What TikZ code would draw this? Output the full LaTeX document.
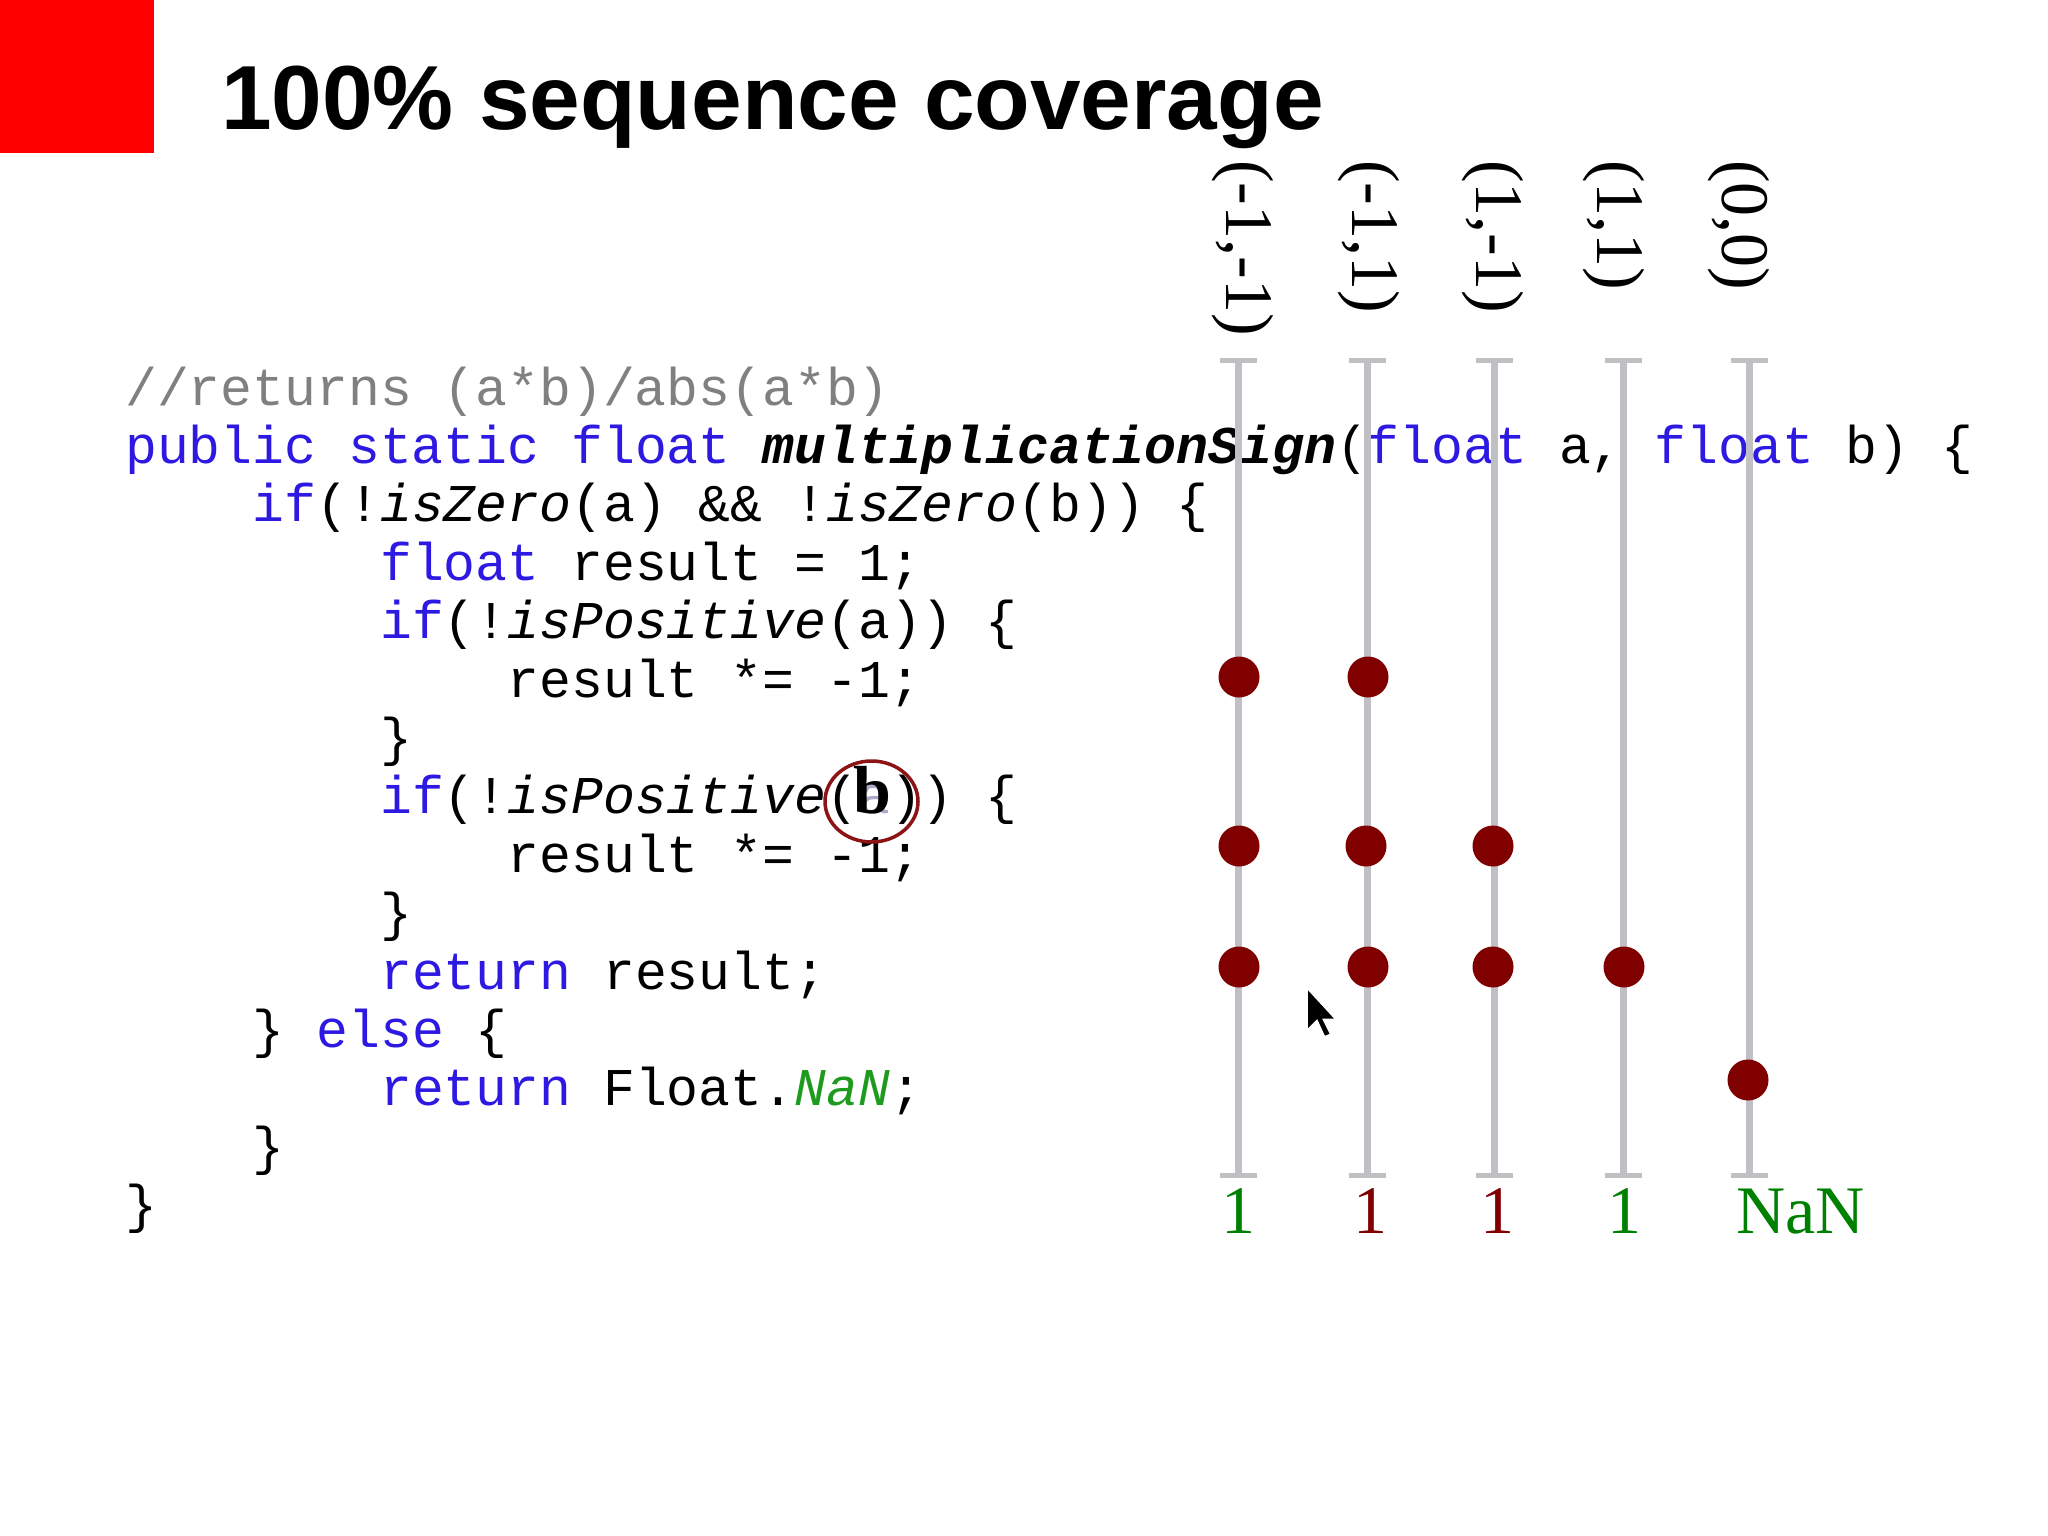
\documentclass[tikz,border=0pt]{standalone}
\usepackage{fontspec}
\usetikzlibrary{shapes.geometric}
\newfontfamily\codefont{Liberation Mono}
\newfontfamily\titlefont{Liberation Sans}
\newfontfamily\labelfont{Liberation Serif}
\definecolor{kwblue}{RGB}{45,25,225}
\definecolor{cmtgray}{RGB}{128,128,128}
\definecolor{nangreen}{RGB}{30,155,30}
\definecolor{dotred}{RGB}{128,0,0}
\definecolor{ringred}{RGB}{140,20,20}
\definecolor{resgreen}{RGB}{0,128,0}
\definecolor{resred}{RGB}{128,0,0}
\definecolor{railgray}{RGB}{192,192,196}
\definecolor{ghost}{RGB}{170,170,200}
\newcommand\kwd[1]{{\color{kwblue}#1}}
\newcommand\itl[1]{{\itshape #1}}
\begin{document}
\begin{tikzpicture}[x=1pt,y=-1pt,
  codeline/.style={anchor=base west, inner sep=0pt, font=\codefont\fontsize{53.1}{60}\selectfont},
  collabel/.style={anchor=base west, inner sep=0pt, rotate=-90, font=\labelfont\fontsize{68}{70}\selectfont},
  reslabel/.style={inner sep=0pt, font=\labelfont\fontsize{68}{70}\selectfont},
  rail/.style={draw=railgray, line width=7pt},
  railcap/.style={draw=railgray, line width=5pt},
  hit/.style={circle, fill=dotred, inner sep=0pt, minimum size=41pt}]
\useasboundingbox (0,0) rectangle (2048,1536);
\fill[white] (0,0) rectangle (2048,1536);
% red corner block
\fill[red] (0,0) rectangle (154,153);
% title
\node[anchor=base west, inner sep=0pt, font=\titlefont\bfseries\fontsize{91}{95}\selectfont] (title) at (221,130) {100\% sequence coverage};
% code
\node[codeline] (c0) at (125,405) {\color{cmtgray}//returns (a*b)/abs(a*b)};
\node[codeline] (c1) at (125,463.4) {\kwd{public} \kwd{static} \kwd{float} {\bfseries\itshape multiplicationSign}(\kwd{float} a, \kwd{float} b) \{};
\node[codeline] (c2) at (252.5,521.8) {\kwd{if}(!\itl{isZero}(a) \&\& !\itl{isZero}(b)) \{};
\node[codeline] (c3) at (380,580.2) {\kwd{float} result = 1;};
\node[codeline] (c4) at (380,638.6) {\kwd{if}(!\itl{isPositive}(a)) \{};
\node[codeline] (c5) at (507.4,697) {result *= -1;};
\node[codeline] (c6) at (380,755.4) {\}};
\node[codeline] (c7) at (380,813.8) {\kwd{if}(!\itl{isPositive}({\color{ghost}a})) \{};
\node[codeline] (c8) at (507.4,872.2) {result *= -1;};
\node[codeline] (c9) at (380,930.6) {\}};
\node[codeline] (c10) at (380,989) {\kwd{return} result;};
\node[codeline] (c11) at (252.5,1047.4) {\} \kwd{else} \{};
\node[codeline] (c12) at (380,1105.8) {\kwd{return} Float.{\color{nangreen}\itshape NaN};};
\node[codeline] (c13) at (252.5,1164.2) {\}};
\node[codeline] (c14) at (125,1222.6) {\}};
% correction b
\node[anchor=base, inner sep=0pt, font=\labelfont\bfseries\fontsize{68}{70}\selectfont] (bfix) at (872.5,813) {b};
\node[draw=ringred, line width=3.5pt, ellipse, inner sep=0pt, minimum width=93pt, minimum height=81pt] (ring) at (871.5,801.5) {};
% rails
\foreach \i/\x in {1/1238.5,2/1367.5,3/1494.5,4/1623.5,5/1749.5}{
  \coordinate (t\i) at (\x,360);
  \coordinate (b\i) at (\x,1175);
  \draw[rail] (t\i) -- (b\i);
  \draw[railcap] ([xshift=-18.5pt]t\i) -- ([xshift=18.5pt]t\i);
  \draw[railcap] ([xshift=-18.5pt]b\i) -- ([xshift=18.5pt]b\i);
}
% column labels
\node[collabel] (l1) at (1226,160) {(-1,-1)};
\node[collabel] (l2) at (1352,160) {(-1,1)};
\node[collabel] (l3) at (1476,160) {(1,-1)};
\node[collabel] (l4) at (1597,160) {(1,1)};
\node[collabel] (l5) at (1722,160) {(0,0)};
% hits
\node[hit] (d11) at (1239,677) {};
\node[hit] (d21) at (1368,677) {};
\node[hit] (d12) at (1239,846) {};
\node[hit] (d22) at (1366,846) {};
\node[hit] (d32) at (1493,846) {};
\node[hit] (d13) at (1239,967) {};
\node[hit] (d23) at (1368,967) {};
\node[hit] (d33) at (1493,967) {};
\node[hit] (d43) at (1624,967) {};
\node[hit] (d54) at (1748,1080) {};
% results
\node[reslabel, anchor=base, text=resgreen] (r1) at (1238,1233) {1};
\node[reslabel, anchor=base, text=resred] (r2) at (1370,1233) {1};
\node[reslabel, anchor=base, text=resred] (r3) at (1497,1233) {1};
\node[reslabel, anchor=base, text=resgreen] (r4) at (1624,1233) {1};
\node[reslabel, anchor=base west, text=resgreen] (r5) at (1736,1233) {NaN};
% mouse pointer
\begin{scope}[shift={(1307,988)}, scale=2.5]
\draw[fill=black, draw=white, line width=1.5pt, line join=miter]
  (0,0) -- (0,17) -- (4,13) -- (7,19.5) -- (9.5,18.5) -- (6.5,12.5) -- (11.5,12.5) -- cycle;
\end{scope}
\end{tikzpicture}
\end{document}
